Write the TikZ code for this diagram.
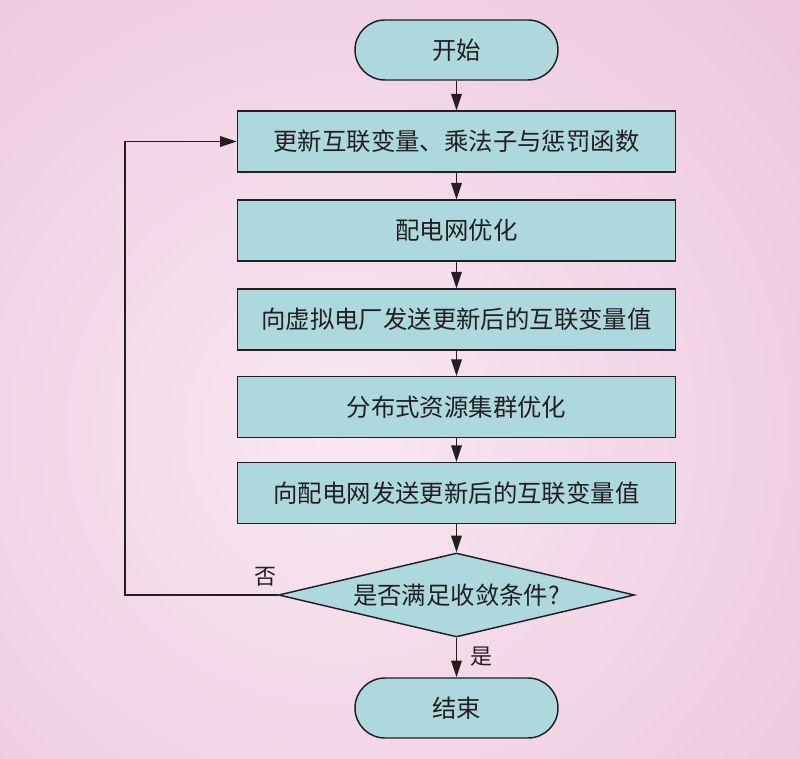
\documentclass[tikz,border=0pt]{standalone}
\usepackage{fontspec}
\setmainfont{Noto Sans CJK SC}
\usetikzlibrary{shapes.geometric,arrows.meta}
\definecolor{bgedge}{HTML}{EABAD7}
\definecolor{bgcenter}{HTML}{F8E8F1}
\definecolor{boxfill}{HTML}{ADD9DE}
\definecolor{ink}{HTML}{231F20}
\tikzset{
  every node/.style={text=ink},
  base/.style={draw=ink, line width=1.1pt, fill=boxfill, font=\fontsize{18.3}{21}\selectfont, inner sep=0pt},
  term/.style={base, rectangle, rounded corners=22.5pt, minimum width=152.25pt, minimum height=45pt},
  procbox/.style={base, rectangle, minimum width=328.5pt, minimum height=45.5pt},
  decision/.style={base, diamond, minimum width=267pt, minimum height=63pt},
  conn/.style={draw=ink, line width=1.1pt, -{Triangle[length=12.5pt,width=8pt]}},
  lbl/.style={font=\fontsize{16.5}{19}\selectfont, inner sep=0pt}
}
\begin{document}
\begin{tikzpicture}[x=0.75pt,y=-0.75pt]
\useasboundingbox (0,0) rectangle (800,759);
\fill[bgedge] (0,0) rectangle (800,759);
\begin{scope}
  \clip (0,0) rectangle (800,759);
  \shade[inner color=bgcenter, outer color=bgedge] (340,430) circle (840);
\end{scope}
\node[term] (start) at (456.5,50) {开始};
\node[procbox] (b1) at (456.5,141.5) {更新互联变量、乘法子与惩罚函数};
\node[procbox] (b2) at (456.5,230.5) {配电网优化};
\node[procbox] (b3) at (456.5,319.5) {向虚拟电厂发送更新后的互联变量值};
\node[procbox] (b4) at (456.5,407) {分布式资源集群优化};
\node[procbox] (b5) at (456.5,493) {向配电网发送更新后的互联变量值};
\node[decision, label={[font=\fontsize{18.3}{21}\selectfont, text=ink]center:是否满足收敛条件?}] (dec) at (456.5,595) {};
\node[term] (stop) at (456.5,708) {结束};
\coordinate (lc1) at (125,595);
\coordinate (lc2) at (125,141.5);
\draw[conn] (start) -- (b1);
\draw[conn] (b1) -- (b2);
\draw[conn] (b2) -- (b3);
\draw[conn] (b3) -- (b4);
\draw[conn] (b4) -- (b5);
\draw[conn] (b5) -- (dec);
\draw[conn] (dec) -- (stop);
\draw[conn] (dec.west) -- (lc1) -- (lc2) -- (b1.west);
\node[lbl] (no) at (265,577) {否};
\node[lbl] (yes) at (481,657) {是};
\end{tikzpicture}
\end{document}
